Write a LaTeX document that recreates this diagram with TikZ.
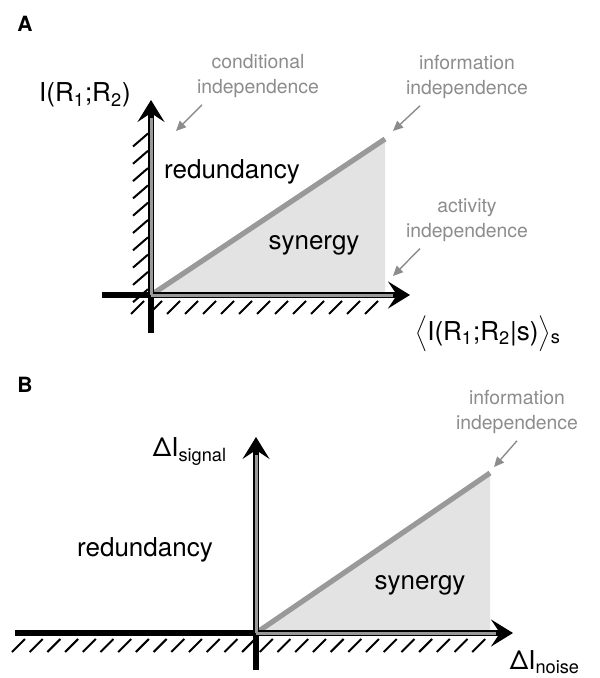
\documentclass[tikz,border=0pt]{standalone}
\usepackage{fontspec}
\setmainfont{TeX Gyre Heros}
\usetikzlibrary{arrows.meta}
\definecolor{trifill}{gray}{0.89}
\definecolor{midgray}{gray}{0.6}
\definecolor{notegray}{gray}{0.55}
\tikzset{
  axis/.style={line width=3.2pt, -{Stealth[length=11pt,width=13.5pt,inset=4.5pt]}},
  core/.style={line width=1.5pt, draw=midgray},
  hatch/.style={line width=1pt},
  diag/.style={line width=2.6pt, draw=midgray},
  region/.style={font=\fontsize{13}{15}\selectfont},
  note/.style={font=\fontsize{9.7}{12.5}\selectfont, text=notegray, align=center},
  pointer/.style={draw=notegray, line width=0.7pt, -{Triangle[length=5pt,width=4.5pt]}},
  panel/.style={font=\fontsize{10.5}{12}\selectfont\bfseries},
}
\begin{document}
\begin{tikzpicture}[x=0.5pt,y=-0.5pt]
  \useasboundingbox (0,0) rectangle (599,678);
  % panel A
  \node[panel] (labA) at (25,24) {A};
  \coordinate (oA) at (151,295);
  \coordinate (yTopA) at (151,100);
  \coordinate (yBotA) at (151,333);
  \coordinate (xLeftA) at (102,295);
  \coordinate (xRightA) at (410,295);
  \coordinate (tA) at (385,139);
  \coordinate (bA) at (385,295);
  \fill[trifill] (oA) -- (tA) -- (bA) -- cycle;
  \draw[diag] (oA) -- (tA);
  \foreach \y in {140,157.3,...,312}
    \draw[hatch] (133,\y+6.5) -- (148,\y-6.5);
  \foreach \x in {137,155,...,380}
    \draw[hatch] (\x-6,314) -- (\x+7,301);
  \draw[axis] (yBotA) -- (yTopA);
  \draw[axis] (xLeftA) -- (xRightA);
  \draw[core] (oA) -- (151,118);
  \draw[core] (oA) -- (393,295);
  \node[region] (yA) at (85,95) {I(R\textsubscript{1};R\textsubscript{2})};
  \node[region] (xA) at (488,334) {\(\Big\langle\)I(R\textsubscript{1};R\textsubscript{2}|s)\(\Big\rangle\)\textsubscript{s}};
  \node[region] (redA) at (232,172) {redundancy};
  \node[region] (synA) at (314,245) {synergy};
  \node[note] (condNote) at (258,76) {conditional\\independence};
  \node[note] (infoNoteA) at (467,77) {information\\independence};
  \node[note] (actNote) at (467,220) {activity\\independence};
  \coordinate (condTip) at (176,131);
  \coordinate (infoTipA) at (393,131);
  \coordinate (actTip) at (393,276);
  \draw[pointer] ([xshift=-28pt]condNote.south) -- (condTip);
  \draw[pointer] ([xshift=-23.5pt]infoNoteA.south) -- (infoTipA);
  \draw[pointer] ([xshift=-23.5pt]actNote.south) -- (actTip);
  % panel B
  \node[panel] (labB) at (25,385) {B};
  \coordinate (oB) at (256,633);
  \coordinate (yTopB) at (256,437);
  \coordinate (yBotB) at (256,670);
  \coordinate (xLeftB) at (15,633);
  \coordinate (xRightB) at (513,633);
  \coordinate (tB) at (490,473);
  \coordinate (bB) at (490,633);
  \fill[trifill] (oB) -- (tB) -- (bB) -- cycle;
  \draw[diag] (oB) -- (tB);
  \foreach \x in {18,35.7,...,486}
    \draw[hatch] (\x-6,652) -- (\x+7,639);
  \draw[axis] (yBotB) -- (yTopB);
  \draw[axis] (xLeftB) -- (xRightB);
  \draw[core] (oB) -- (256,455);
  \draw[core] (oB) -- (496,633);
  \node[region] (yB) at (190,452) {ΔI\textsubscript{signal}};
  \node[region] (xB) at (545,662) {ΔI\textsubscript{noise}};
  \node[region] (redB) at (145,550) {redundancy};
  \node[region] (synB) at (420,585) {synergy};
  \node[note] (infoNoteB) at (517,412) {information\\independence};
  \coordinate (infoTipB) at (494,467);
  \draw[pointer] (infoNoteB.south) -- (infoTipB);
\end{tikzpicture}
\end{document}
